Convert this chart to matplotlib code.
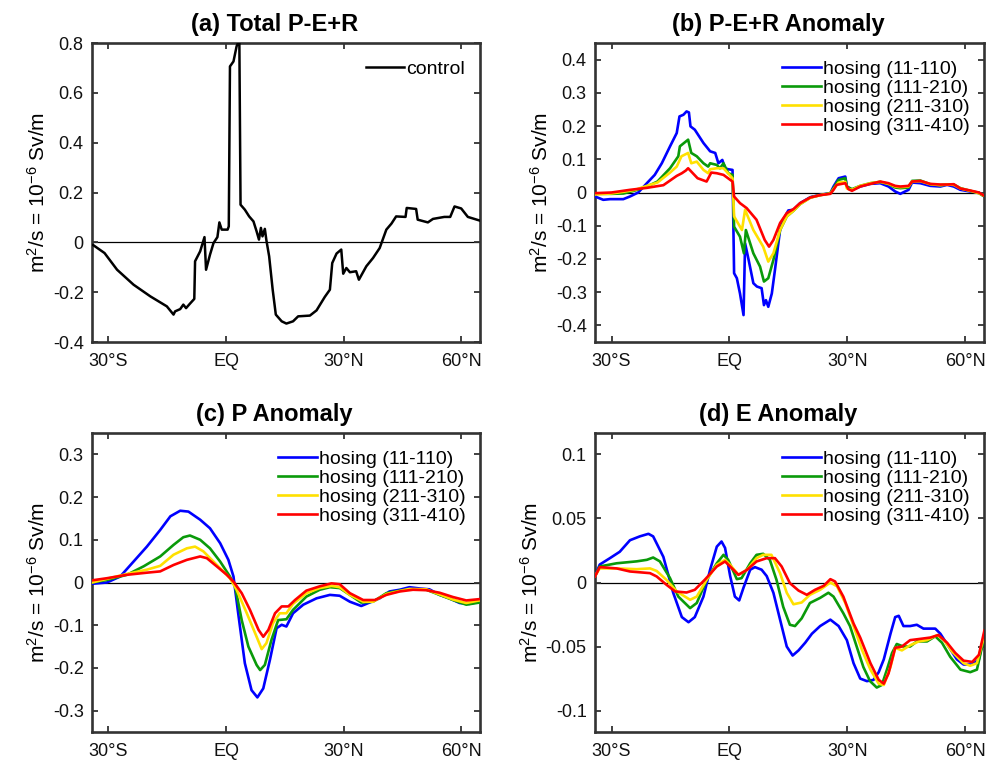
import matplotlib
matplotlib.use("Agg")
import matplotlib.pyplot as plt

plt.rcParams['font.family'] = ['Liberation Sans', 'DejaVu Sans']
plt.rcParams['mathtext.fontset'] = 'custom'
plt.rcParams['mathtext.rm'] = 'Liberation Sans'
plt.rcParams['mathtext.it'] = 'Liberation Sans'
plt.rcParams['mathtext.default'] = 'regular'
plt.rcParams['axes.unicode_minus'] = False

# ---------------- data ----------------
xticks = [-30, 0, 30, 60]
xticklabels = ['30°S', 'EQ', '30°N', '60°N']

series_labels = ['hosing (11-110)', 'hosing (111-210)', 'hosing (211-310)', 'hosing (311-410)']
series_colors = ['#0000FF', '#0A9A0A', '#FFE000', '#FF0000']

# (a) control P-E+R
lat_a = [-33.9, -31.0, -27.8, -23.6, -19.3, -15.1, -13.4, -13.0, -11.7, -10.9, -10.2, -9.2, -8.1, -7.9,
         -6.6, -5.5, -5.1, -4.1, -3.2, -2.2, -1.7, -1.1, 0.4, 0.7, 1.0, 1.9, 2.7, 3.05, 3.4, 3.7, 4.8,
         5.9, 7.0, 7.8, 8.4, 8.9, 9.3, 9.9, 10.3, 11.0, 11.9, 12.7, 14.2, 15.4, 17.1, 18.4, 21.4, 23.1,
         25.2, 26.5, 27.1, 28.2, 29.4, 29.9, 30.7, 31.6, 33.2, 33.9, 35.8, 37.5, 39.2, 40.9, 42.2, 43.4,
         45.8, 46.1, 48.5, 48.9, 51.5, 52.8, 55.7, 57.2, 58.3, 60.0, 61.7, 64.6]
val_a = [-0.011, -0.043, -0.11, -0.17, -0.217, -0.257, -0.29, -0.277, -0.268, -0.25, -0.264, -0.246,
         -0.227, -0.076, -0.036, 0.021, -0.11, -0.05, -0.003, 0.021, 0.08, 0.051, 0.051, 0.064, 0.706,
         0.726, 0.787, 0.80, 0.80, 0.151, 0.131, 0.104, 0.084, 0.044, 0.011, 0.058, 0.024, 0.054, 0.008,
         -0.056, -0.19, -0.29, -0.317, -0.326, -0.317, -0.297, -0.294, -0.273, -0.219, -0.19, -0.083,
         -0.045, -0.029, -0.126, -0.103, -0.12, -0.116, -0.15, -0.096, -0.063, -0.023, 0.051, 0.075,
         0.104, 0.102, 0.138, 0.134, 0.091, 0.08, 0.094, 0.102, 0.102, 0.144, 0.136, 0.102, 0.088]

# (b) P-E+R anomaly
lat_b1 = [-34.2, -32.1, -30.4, -27.0, -25.3, -23.2, -21.0, -19.0, -17.2, -15.1, -13.4, -12.7, -11.7, -10.9,
          -10.3, -9.9, -8.8, -6.6, -4.9, -3.6, -2.8, -1.8, -1.1, -0.3, 0.8, 1.2, 1.9, 2.7, 3.6, 4.0, 4.9,
          6.1, 7.0, 8.2, 8.8, 9.3, 9.9, 10.8, 11.6, 12.9, 13.7, 15.0, 16.3, 18.0, 20.6, 23.1, 25.7, 26.5,
          27.8, 29.5, 29.9, 31.2, 33.3, 35.9, 38.4, 40.5, 42.2, 43.5, 44.7, 45.6, 46.5, 48.6, 51.1, 53.7,
          55.4, 57.1, 58.8, 61.3, 63.5, 64.9]
val_b1 = [-0.012, -0.022, -0.020, -0.020, -0.012, 0.0, 0.028, 0.053, 0.088, 0.139, 0.179, 0.229, 0.234,
          0.244, 0.241, 0.199, 0.189, 0.149, 0.124, 0.119, 0.088, 0.098, 0.073, 0.070, 0.068, -0.243,
          -0.258, -0.304, -0.369, -0.153, -0.203, -0.273, -0.283, -0.288, -0.339, -0.324, -0.344, -0.304,
          -0.233, -0.113, -0.082, -0.054, -0.052, -0.032, -0.014, -0.007, -0.002, 0.018, 0.043, 0.048,
          0.018, 0.008, 0.018, 0.026, 0.028, 0.018, 0.003, -0.004, 0.003, 0.008, 0.030, 0.028, 0.020,
          0.018, 0.023, 0.018, 0.008, 0.003, 0.0, -0.012]
lat_b2 = [-34.2, -30.0, -27.0, -24.0, -21.0, -18.3, -15.1, -13.0, -12.6, -10.5, -9.7, -8.3, -6.6, -5.4,
          -4.9, -3.2, -2.4, -1.5, -0.3, 0.8, 1.2, 2.7, 3.7, 4.2, 6.1, 7.8, 8.8, 9.9, 11.2, 12.9, 14.6, 16.3,
          18.0, 20.6, 23.1, 25.7, 26.5, 27.8, 29.5, 29.9, 31.2, 33.3, 35.9, 38.4, 40.5, 42.2, 43.5, 45.6,
          46.5, 48.6, 51.1, 53.7, 55.4, 57.1, 58.8, 61.3, 63.5, 64.9]
val_b2 = [-0.004, -0.004, -0.003, 0.006, 0.018, 0.033, 0.073, 0.109, 0.139, 0.159, 0.119, 0.109, 0.088,
          0.078, 0.088, 0.083, 0.073, 0.088, 0.058, 0.053, -0.103, -0.133, -0.183, -0.113, -0.183, -0.223,
          -0.268, -0.258, -0.203, -0.113, -0.072, -0.055, -0.035, -0.015, -0.008, -0.002, 0.013, 0.038,
          0.043, 0.018, 0.010, 0.020, 0.028, 0.032, 0.025, 0.015, 0.013, 0.015, 0.035, 0.036, 0.025,
          0.022, 0.024, 0.024, 0.013, 0.005, -0.002, -0.012]
lat_b3 = [-34.2, -30.0, -27.0, -24.0, -21.0, -18.3, -15.1, -13.4, -12.2, -10.5, -9.7, -8.3, -6.6, -5.4,
          -4.9, -3.2, -1.5, 0.8, 1.2, 3.2, 4.0, 6.1, 8.6, 9.9, 11.2, 12.9, 14.6, 16.3, 18.0, 20.6, 23.1,
          25.7, 26.5, 27.8, 29.5, 29.9, 31.2, 33.3, 35.9, 38.4, 40.5, 42.2, 43.5, 45.6, 46.5, 48.6, 51.1,
          53.7, 55.4, 57.1, 58.8, 61.3, 63.5, 64.9]
val_b3 = [-0.006, -0.003, 0.002, 0.008, 0.020, 0.030, 0.060, 0.078, 0.109, 0.119, 0.088, 0.093, 0.068,
          0.058, 0.070, 0.073, 0.073, 0.043, -0.072, -0.113, -0.052, -0.113, -0.163, -0.208, -0.183,
          -0.113, -0.072, -0.055, -0.035, -0.016, -0.008, -0.003, 0.010, 0.030, 0.032, 0.012, 0.008,
          0.020, 0.028, 0.032, 0.026, 0.018, 0.016, 0.018, 0.033, 0.034, 0.025, 0.022, 0.024, 0.023,
          0.012, 0.005, -0.002, -0.010]
lat_b4 = [-34.2, -30.0, -25.3, -21.0, -16.8, -13.4, -12.1, -11.1, -10.5, -9.7, -8.1, -5.8, -4.6, -3.2,
          -1.5, 0.8, 1.2, 2.7, 4.4, 6.9, 9.0, 10.1, 11.2, 12.9, 14.6, 16.3, 18.0, 20.6, 23.1, 25.7, 26.5,
          27.3, 29.5, 30.3, 31.2, 33.3, 35.9, 38.4, 40.5, 42.2, 43.5, 45.6, 46.5, 48.6, 51.1, 53.7, 55.4,
          57.1, 58.8, 61.3, 63.5, 64.9]
val_b4 = [-0.002, 0.0, 0.008, 0.014, 0.022, 0.050, 0.058, 0.066, 0.073, 0.063, 0.043, 0.033, 0.060, 0.058,
          0.053, 0.033, -0.012, -0.032, -0.047, -0.082, -0.143, -0.163, -0.143, -0.092, -0.062, -0.050,
          -0.032, -0.015, -0.008, -0.004, 0.008, 0.023, 0.028, 0.010, 0.005, 0.018, 0.026, 0.033, 0.028,
          0.020, 0.018, 0.020, 0.033, 0.035, 0.026, 0.024, 0.024, 0.025, 0.012, 0.006, 0.0, -0.010]

# (c) P anomaly
lat_c1 = [-34.2, -30.4, -27.0, -23.6, -20.2, -16.8, -14.2, -11.7, -9.6, -6.6, -4.1, -1.5, 0.6, 1.9, 3.1,
          4.8, 6.5, 8.0, 9.5, 11.2, 12.9, 14.2, 15.4, 17.1, 19.7, 23.1, 26.5, 29.0, 31.6, 34.5, 36.6, 39.2,
          41.7, 44.3, 46.8, 49.4, 51.9, 54.5, 57.0, 59.6, 62.1, 64.6]
val_c1 = [-0.003, 0.0, 0.014, 0.049, 0.084, 0.123, 0.155, 0.168, 0.166, 0.147, 0.127, 0.092, 0.053, 0.014,
          -0.072, -0.189, -0.252, -0.269, -0.248, -0.181, -0.107, -0.099, -0.103, -0.072, -0.052, -0.037,
          -0.029, -0.031, -0.045, -0.055, -0.047, -0.037, -0.021, -0.017, -0.011, -0.014, -0.016, -0.029,
          -0.037, -0.048, -0.050, -0.045]
lat_c2 = [-34.2, -30.4, -25.3, -21.0, -16.8, -13.4, -10.9, -9.2, -6.6, -4.1, -1.5, 1.0, 2.3, 4.0, 5.7,
          7.8, 8.7, 9.9, 11.6, 13.3, 15.4, 17.1, 20.5, 23.9, 26.5, 29.0, 31.6, 34.5, 37.5, 40.9, 44.3,
          46.8, 51.1, 54.5, 57.9, 61.3, 64.6]
val_c2 = [0.0, 0.006, 0.018, 0.038, 0.061, 0.088, 0.106, 0.110, 0.100, 0.080, 0.049, 0.014, -0.009,
          -0.088, -0.150, -0.193, -0.205, -0.193, -0.134, -0.088, -0.086, -0.064, -0.033, -0.017, -0.011,
          -0.013, -0.029, -0.047, -0.045, -0.025, -0.019, -0.016, -0.017, -0.029, -0.041, -0.052, -0.047]
lat_c3 = [-34.2, -25.3, -20.2, -16.8, -13.4, -10.0, -7.9, -5.8, -3.2, -0.7, 1.0, 2.7, 5.3, 7.8, 9.1,
          10.3, 12.0, 13.7, 15.4, 17.1, 20.5, 23.9, 26.9, 29.0, 31.6, 35.0, 37.5, 40.9, 44.3, 46.8, 51.1,
          54.5, 57.9, 61.3, 64.6]
val_c3 = [0.0, 0.020, 0.030, 0.039, 0.065, 0.080, 0.084, 0.073, 0.049, 0.026, 0.010, -0.017, -0.072,
          -0.127, -0.156, -0.142, -0.095, -0.072, -0.072, -0.050, -0.025, -0.013, -0.008, -0.011, -0.029,
          -0.045, -0.045, -0.027, -0.020, -0.015, -0.016, -0.028, -0.040, -0.048, -0.042]
lat_c4 = [-34.2, -30.4, -25.3, -20.2, -16.8, -13.4, -10.0, -6.6, -4.9, -2.4, 0.2, 1.9, 4.0, 6.1, 8.3,
          9.5, 10.8, 12.5, 14.2, 15.9, 17.6, 20.5, 23.9, 26.9, 29.0, 31.6, 35.0, 38.0, 40.9, 44.3, 47.7,
          51.1, 54.5, 57.9, 61.3, 64.6]
val_c4 = [0.005, 0.010, 0.018, 0.023, 0.026, 0.041, 0.053, 0.061, 0.057, 0.038, 0.018, 0.002, -0.025,
          -0.064, -0.111, -0.127, -0.111, -0.072, -0.056, -0.056, -0.041, -0.019, -0.009, -0.002, -0.004,
          -0.025, -0.041, -0.041, -0.029, -0.021, -0.017, -0.018, -0.024, -0.034, -0.042, -0.039]

# (d) E anomaly
lat_d1 = [-34.2, -33.0, -30.4, -27.9, -25.3, -22.8, -20.6, -19.4, -16.8, -14.3, -12.1, -10.4, -8.8, -6.6,
          -4.9, -3.2, -2.0, -1.1, 0.2, 1.4, 2.5, 3.6, 5.3, 6.5, 8.2, 9.5, 11.2, 12.9, 14.6, 16.1, 17.6,
          19.3, 21.0, 23.1, 25.7, 27.8, 29.9, 31.6, 33.3, 35.0, 36.7, 38.0, 39.3, 41.0, 42.2, 43.1, 44.3,
          46.0, 47.7, 49.4, 52.4, 53.7, 55.8, 57.9, 59.6, 61.8, 63.5, 64.9]
val_d1 = [0.005, 0.014, 0.019, 0.024, 0.033, 0.036, 0.038, 0.036, 0.020, -0.008, -0.027, -0.031, -0.027,
          -0.011, 0.010, 0.028, 0.032, 0.027, 0.005, -0.011, -0.014, -0.004, 0.010, 0.012, 0.010, 0.005,
          -0.008, -0.029, -0.050, -0.057, -0.053, -0.047, -0.040, -0.034, -0.029, -0.034, -0.045, -0.063,
          -0.075, -0.077, -0.076, -0.070, -0.060, -0.040, -0.027, -0.026, -0.034, -0.034, -0.033, -0.036,
          -0.036, -0.040, -0.050, -0.060, -0.064, -0.064, -0.060, -0.040]
lat_d2 = [-34.2, -33.0, -28.7, -23.6, -21.0, -19.4, -17.7, -15.1, -13.0, -10.0, -8.3, -5.8, -3.2, -1.5,
          -0.3, 1.9, 3.1, 5.3, 6.9, 8.6, 10.3, 12.0, 13.7, 15.4, 16.7, 18.4, 20.5, 23.1, 25.2, 26.5, 29.0,
          30.7, 32.4, 34.1, 35.8, 37.5, 38.8, 40.1, 41.4, 42.6, 44.3, 46.0, 47.7, 50.3, 52.4, 54.1, 56.2,
          58.8, 61.3, 63.0, 64.9]
val_d2 = [0.005, 0.0125, 0.015, 0.0165, 0.0177, 0.0195, 0.0165, 0.0034, -0.011, -0.020, -0.016, 0.002,
          0.015, 0.0216, 0.0177, 0.0026, 0.0034, 0.015, 0.0216, 0.0224, 0.0177, 0.002, -0.019, -0.033,
          -0.034, -0.028, -0.016, -0.012, -0.008, -0.011, -0.024, -0.034, -0.050, -0.066, -0.077, -0.082,
          -0.080, -0.068, -0.055, -0.048, -0.050, -0.050, -0.046, -0.046, -0.042, -0.047, -0.058, -0.068,
          -0.070, -0.068, -0.042]
lat_d3 = [-34.2, -33.0, -28.7, -23.6, -20.2, -18.5, -16.0, -13.4, -10.0, -8.3, -5.8, -3.2, -1.1, 0.2, 2.3,
          4.5, 6.9, 8.6, 10.7, 12.9, 14.6, 16.3, 18.4, 20.5, 23.1, 25.7, 27.4, 29.5, 31.6, 33.8, 35.9,
          38.0, 39.3, 41.0, 42.2, 43.9, 46.0, 48.2, 50.3, 52.9, 54.6, 56.7, 59.6, 61.3, 63.0, 64.9]
val_d3 = [0.005, 0.011, 0.011, 0.0104, 0.011, 0.009, 0.002, -0.007, -0.0135, -0.011, 0.002, 0.0138,
          0.0177, 0.0138, 0.006, 0.0099, 0.019, 0.0216, 0.0216, 0.0073, -0.008, -0.017, -0.0156, -0.0096,
          -0.0057, 0.0, -0.003, -0.016, -0.034, -0.053, -0.068, -0.079, -0.080, -0.066, -0.051, -0.053,
          -0.049, -0.046, -0.045, -0.041, -0.045, -0.054, -0.063, -0.065, -0.063, -0.041]
lat_d4 = [-34.2, -33.0, -28.7, -25.3, -20.2, -18.5, -16.0, -13.8, -10.9, -8.8, -6.3, -3.2, -1.1, 0.2, 2.3,
          4.5, 6.9, 9.5, 11.6, 13.3, 15.4, 17.6, 19.7, 21.8, 24.0, 25.7, 26.9, 29.0, 31.6, 33.3, 35.9,
          38.0, 39.3, 40.5, 42.2, 43.9, 46.0, 48.6, 51.1, 53.2, 55.4, 57.5, 59.6, 61.8, 63.5, 64.9]
val_d4 = [0.0047, 0.012, 0.011, 0.0086, 0.0073, 0.0047, -0.0018, -0.007, -0.0078, -0.0057, 0.002, 0.0125,
          0.0164, 0.0125, 0.006, 0.0099, 0.0164, 0.019, 0.019, 0.0125, -0.0005, -0.0063, -0.0096, -0.0057,
          -0.0026, 0.0026, 0.0008, -0.011, -0.032, -0.043, -0.063, -0.076, -0.079, -0.071, -0.051, -0.050,
          -0.045, -0.044, -0.043, -0.041, -0.047, -0.055, -0.061, -0.062, -0.0565, -0.0375]

yticks_a = [-0.4, -0.2, 0, 0.2, 0.4, 0.6, 0.8]
yticklabels_a = ['-0.4', '-0.2', '0', '0.2', '0.4', '0.6', '0.8']
yticks_b = [-0.4, -0.3, -0.2, -0.1, 0, 0.1, 0.2, 0.3, 0.4]
yticklabels_b = ['-0.4', '-0.3', '-0.2', '-0.1', '0', '0.1', '0.2', '0.3', '0.4']
yticks_c = [-0.3, -0.2, -0.1, 0, 0.1, 0.2, 0.3]
yticklabels_c = ['-0.3', '-0.2', '-0.1', '0', '0.1', '0.2', '0.3']
yticks_d = [-0.1, -0.05, 0, 0.05, 0.1]
yticklabels_d = ['-0.1', '-0.05', '0', '0.05', '0.1']

titles = ['(a) Total P-E+R', '(b) P-E+R Anomaly', '(c) P Anomaly', '(d) E Anomaly']
ylabel = 'm$^2$/s = 10$^{-6}$ Sv/m'

# ---------------- plotting ----------------
W, H = 998, 762
fig = plt.figure(figsize=(W / 100, H / 100), dpi=100)

def rect(l, t, r, b):
    return [l / W, 1 - b / H, (r - l) / W, (b - t) / H]

ax_a = fig.add_axes(rect(92, 43, 480, 342))
ax_b = fig.add_axes(rect(595, 43, 984, 342))
ax_c = fig.add_axes(rect(92, 433, 480, 732))
ax_d = fig.add_axes(rect(595, 433, 984, 732))

spine_col = '#333333'

def style(ax, title, ylim, yt, ytl, title_x):
    ax.set_xlim(-34.2, 64.8)
    ax.set_ylim(*ylim)
    ax.set_xticks(xticks)
    ax.set_xticklabels(xticklabels)
    ax.set_yticks(yt)
    ax.set_yticklabels(ytl)
    ax.tick_params(direction='in', length=4.5, width=1.3, color=spine_col,
                   top=True, right=True, labelsize=13, pad=6, labelcolor='#111111')
    ax.tick_params(axis='x', pad=8)
    for s in ax.spines.values():
        s.set_linewidth(1.9)
        s.set_color(spine_col)
    ax.axhline(0, color='black', lw=0.9, zorder=1)
    ax.set_ylabel(ylabel, fontsize=15, labelpad=3)
    ax.set_title(title, fontsize=17, fontweight='bold', pad=9, x=title_x)

ax_a.plot(lat_a, val_a, color='black', lw=1.8, label='control', zorder=3)
style(ax_a, titles[0], (-0.4, 0.8), yticks_a, yticklabels_a, 0.47)
ax_a.legend(loc='upper left', bbox_to_anchor=(0.705, 0.943), frameon=False, fontsize=14,
            handlelength=2.0, handletextpad=0.1, borderpad=0, borderaxespad=0)

for ax, lats, vals, title, ylim, yt, ytl in [
        (ax_b, [lat_b1, lat_b2, lat_b3, lat_b4], [val_b1, val_b2, val_b3, val_b4], titles[1], (-0.45, 0.45), yticks_b, yticklabels_b),
        (ax_c, [lat_c1, lat_c2, lat_c3, lat_c4], [val_c1, val_c2, val_c3, val_c4], titles[2], (-0.35, 0.35), yticks_c, yticklabels_c),
        (ax_d, [lat_d1, lat_d2, lat_d3, lat_d4], [val_d1, val_d2, val_d3, val_d4], titles[3], (-0.1167, 0.1167), yticks_d, yticklabels_d)]:
    for la, va, lab, col in zip(lats, vals, series_labels, series_colors):
        ax.plot(la, va, color=col, lw=1.9, label=lab, zorder=3)
    style(ax, title, ylim, yt, ytl, 0.47)
    ax.legend(loc='upper left', bbox_to_anchor=(0.48, 0.943), frameon=False, fontsize=14,
              handlelength=2.0, handletextpad=0.1, borderpad=0, borderaxespad=0,
              labelspacing=0.07)

fig.savefig('out.png', dpi=100)
